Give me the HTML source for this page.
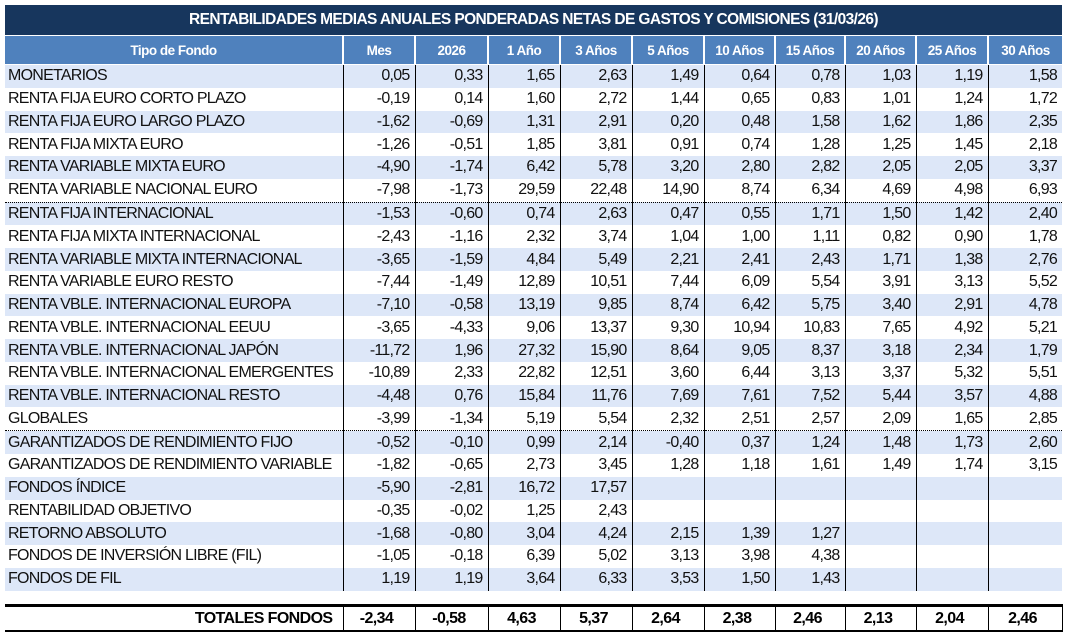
<!DOCTYPE html>
<html><head><meta charset="utf-8">
<style>
html,body{margin:0;padding:0;background:#fff;width:1068px;height:633px;overflow:hidden;}
body{font-family:"Liberation Sans",Arial,sans-serif;position:relative;}
.title{position:absolute;left:5px;top:5px;width:1057px;height:30px;background:#17365d;color:#fff;font-weight:bold;font-size:15.5px;letter-spacing:-0.6px;text-align:center;line-height:30px;}
table{position:absolute;left:5px;border-collapse:collapse;table-layout:fixed;width:1057px;}
#hd{top:36px;}
#hd td{background:#4f81bd;color:#fff;font-weight:bold;font-size:13.5px;letter-spacing:-0.5px;text-align:center;height:28px;padding:0;border-left:2px solid #fff;}
#hd td:first-child{border-left:none;}
#bd{top:65px;}
#bd td{height:22.78px;padding:0 5px 0 0;font-size:16px;letter-spacing:-0.75px;text-align:right;border-left:1px solid #000;color:#111;line-height:20px;white-space:nowrap;}
#bd td:first-child{text-align:left;padding-left:3px;border-left:none;}
#bd tr:nth-child(odd) td{background:#dde7f8;}
#bd tr.sep td{border-top:1px dotted #000;}
#tot{top:604px;border-top:3px solid #000;border-bottom:2px solid #000;}
#tot td{height:23px;padding:0 5px 0 0;font-weight:bold;font-size:16px;letter-spacing:-0.6px;text-align:center;border-left:1px solid #000;}
#tot td:first-child{text-align:right;border-left:none;padding-right:10px;}
#tot td:last-child{border-right:1px solid #000;}
</style></head><body>
<div class="title">RENTABILIDADES MEDIAS ANUALES PONDERADAS NETAS DE GASTOS Y COMISIONES (31/03/26)</div>
<table id="hd"><colgroup><col style="width:338px"><col style="width:72px"><col style="width:73px"><col style="width:72px"><col style="width:72px"><col style="width:72px"><col style="width:71px"><col style="width:70px"><col style="width:71px"><col style="width:72px"><col style="width:74px"></colgroup>
<tr><td>Tipo de Fondo</td><td>Mes</td><td>2026</td><td>1 Año</td><td>3 Años</td><td>5 Años</td><td>10 Años</td><td>15 Años</td><td>20 Años</td><td>25 Años</td><td>30 Años</td></tr></table>
<table id="bd"><colgroup><col style="width:338px"><col style="width:72px"><col style="width:73px"><col style="width:72px"><col style="width:72px"><col style="width:72px"><col style="width:71px"><col style="width:70px"><col style="width:71px"><col style="width:72px"><col style="width:74px"></colgroup>
<tr><td>MONETARIOS</td><td>0,05</td><td>0,33</td><td>1,65</td><td>2,63</td><td>1,49</td><td>0,64</td><td>0,78</td><td>1,03</td><td>1,19</td><td>1,58</td></tr>
<tr><td>RENTA FIJA EURO CORTO PLAZO</td><td>-0,19</td><td>0,14</td><td>1,60</td><td>2,72</td><td>1,44</td><td>0,65</td><td>0,83</td><td>1,01</td><td>1,24</td><td>1,72</td></tr>
<tr><td>RENTA FIJA EURO LARGO PLAZO</td><td>-1,62</td><td>-0,69</td><td>1,31</td><td>2,91</td><td>0,20</td><td>0,48</td><td>1,58</td><td>1,62</td><td>1,86</td><td>2,35</td></tr>
<tr><td>RENTA FIJA MIXTA EURO</td><td>-1,26</td><td>-0,51</td><td>1,85</td><td>3,81</td><td>0,91</td><td>0,74</td><td>1,28</td><td>1,25</td><td>1,45</td><td>2,18</td></tr>
<tr><td>RENTA VARIABLE MIXTA EURO</td><td>-4,90</td><td>-1,74</td><td>6,42</td><td>5,78</td><td>3,20</td><td>2,80</td><td>2,82</td><td>2,05</td><td>2,05</td><td>3,37</td></tr>
<tr><td>RENTA VARIABLE NACIONAL EURO</td><td>-7,98</td><td>-1,73</td><td>29,59</td><td>22,48</td><td>14,90</td><td>8,74</td><td>6,34</td><td>4,69</td><td>4,98</td><td>6,93</td></tr>
<tr class="sep"><td>RENTA FIJA INTERNACIONAL</td><td>-1,53</td><td>-0,60</td><td>0,74</td><td>2,63</td><td>0,47</td><td>0,55</td><td>1,71</td><td>1,50</td><td>1,42</td><td>2,40</td></tr>
<tr><td>RENTA FIJA MIXTA INTERNACIONAL</td><td>-2,43</td><td>-1,16</td><td>2,32</td><td>3,74</td><td>1,04</td><td>1,00</td><td>1,11</td><td>0,82</td><td>0,90</td><td>1,78</td></tr>
<tr><td>RENTA VARIABLE MIXTA INTERNACIONAL</td><td>-3,65</td><td>-1,59</td><td>4,84</td><td>5,49</td><td>2,21</td><td>2,41</td><td>2,43</td><td>1,71</td><td>1,38</td><td>2,76</td></tr>
<tr><td>RENTA VARIABLE EURO RESTO</td><td>-7,44</td><td>-1,49</td><td>12,89</td><td>10,51</td><td>7,44</td><td>6,09</td><td>5,54</td><td>3,91</td><td>3,13</td><td>5,52</td></tr>
<tr><td>RENTA VBLE. INTERNACIONAL EUROPA</td><td>-7,10</td><td>-0,58</td><td>13,19</td><td>9,85</td><td>8,74</td><td>6,42</td><td>5,75</td><td>3,40</td><td>2,91</td><td>4,78</td></tr>
<tr><td>RENTA VBLE. INTERNACIONAL EEUU</td><td>-3,65</td><td>-4,33</td><td>9,06</td><td>13,37</td><td>9,30</td><td>10,94</td><td>10,83</td><td>7,65</td><td>4,92</td><td>5,21</td></tr>
<tr><td>RENTA VBLE. INTERNACIONAL JAPÓN</td><td>-11,72</td><td>1,96</td><td>27,32</td><td>15,90</td><td>8,64</td><td>9,05</td><td>8,37</td><td>3,18</td><td>2,34</td><td>1,79</td></tr>
<tr><td>RENTA VBLE. INTERNACIONAL EMERGENTES</td><td>-10,89</td><td>2,33</td><td>22,82</td><td>12,51</td><td>3,60</td><td>6,44</td><td>3,13</td><td>3,37</td><td>5,32</td><td>5,51</td></tr>
<tr><td>RENTA VBLE. INTERNACIONAL RESTO</td><td>-4,48</td><td>0,76</td><td>15,84</td><td>11,76</td><td>7,69</td><td>7,61</td><td>7,52</td><td>5,44</td><td>3,57</td><td>4,88</td></tr>
<tr><td>GLOBALES</td><td>-3,99</td><td>-1,34</td><td>5,19</td><td>5,54</td><td>2,32</td><td>2,51</td><td>2,57</td><td>2,09</td><td>1,65</td><td>2,85</td></tr>
<tr class="sep"><td>GARANTIZADOS DE RENDIMIENTO FIJO</td><td>-0,52</td><td>-0,10</td><td>0,99</td><td>2,14</td><td>-0,40</td><td>0,37</td><td>1,24</td><td>1,48</td><td>1,73</td><td>2,60</td></tr>
<tr><td>GARANTIZADOS DE RENDIMIENTO VARIABLE</td><td>-1,82</td><td>-0,65</td><td>2,73</td><td>3,45</td><td>1,28</td><td>1,18</td><td>1,61</td><td>1,49</td><td>1,74</td><td>3,15</td></tr>
<tr><td>FONDOS ÍNDICE</td><td>-5,90</td><td>-2,81</td><td>16,72</td><td>17,57</td><td></td><td></td><td></td><td></td><td></td><td></td></tr>
<tr><td>RENTABILIDAD OBJETIVO</td><td>-0,35</td><td>-0,02</td><td>1,25</td><td>2,43</td><td></td><td></td><td></td><td></td><td></td><td></td></tr>
<tr><td>RETORNO ABSOLUTO</td><td>-1,68</td><td>-0,80</td><td>3,04</td><td>4,24</td><td>2,15</td><td>1,39</td><td>1,27</td><td></td><td></td><td></td></tr>
<tr><td>FONDOS DE INVERSIÓN LIBRE (FIL)</td><td>-1,05</td><td>-0,18</td><td>6,39</td><td>5,02</td><td>3,13</td><td>3,98</td><td>4,38</td><td></td><td></td><td></td></tr>
<tr><td>FONDOS DE FIL</td><td>1,19</td><td>1,19</td><td>3,64</td><td>6,33</td><td>3,53</td><td>1,50</td><td>1,43</td><td></td><td></td><td></td></tr>
</table>
<table id="tot"><colgroup><col style="width:338px"><col style="width:72px"><col style="width:73px"><col style="width:72px"><col style="width:72px"><col style="width:72px"><col style="width:71px"><col style="width:70px"><col style="width:71px"><col style="width:72px"><col style="width:74px"></colgroup>
<tr><td>TOTALES FONDOS</td><td>-2,34</td><td>-0,58</td><td>4,63</td><td>5,37</td><td>2,64</td><td>2,38</td><td>2,46</td><td>2,13</td><td>2,04</td><td>2,46</td></tr></table>
</body></html>
